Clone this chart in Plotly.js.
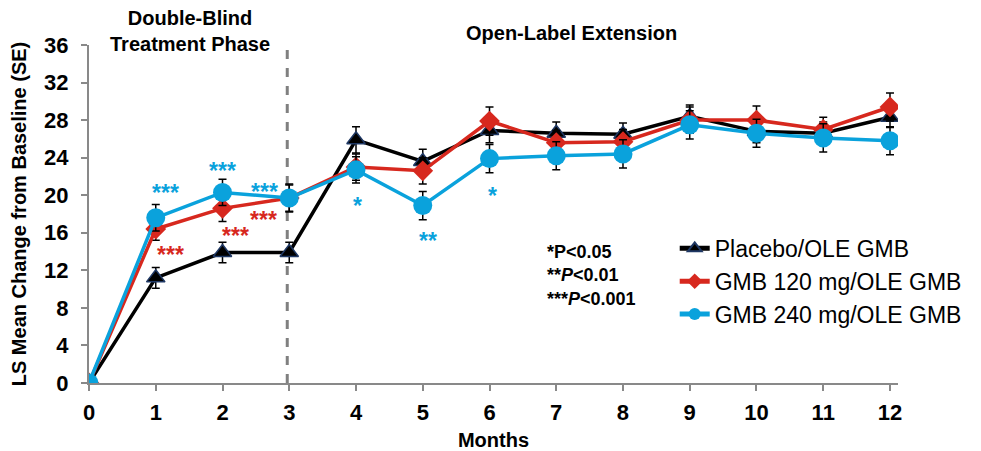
<!DOCTYPE html>
<html>
<head>
<meta charset="utf-8">
<script src="https://cdn.plot.ly/plotly-3.0.1.min.js"></script>
<style>html,body{margin:0;padding:0;background:#fff;}#chart{width:981px;height:451px;}</style>
</head>
<body>
<div id="chart"></div>
<script>
// ---- data ----
var months = [0, 1, 2, 3, 4, 5, 6, 7, 8, 9, 10, 11, 12];
var tickLabels = ["0","1","2","3","4","5","6","7","8","9","10","11","12"];
var seriesNames = ["Placebo/OLE GMB", "GMB 120 mg/OLE GMB", "GMB 240 mg/OLE GMB"];
var placebo    = [0, 11.2, 13.9, 13.9, 25.9, 23.6, 26.9, 26.6, 26.5, 28.4, 26.8, 26.6, 28.3];
var placeboSE  = [0, 1.1, 1.1, 1.1, 1.4, 1.3, 1.3, 1.2, 1.2, 1.2, 1.2, 1.2, 1.1];
var gmb120     = [0, 16.4, 18.6, 19.7, 23.0, 22.6, 27.9, 25.6, 25.7, 28.0, 28.0, 27.0, 29.4];
var gmb120SE   = [0, 1.2, 1.4, 1.4, 1.4, 1.4, 1.5, 1.3, 1.3, 1.4, 1.5, 1.3, 1.5];
var gmb240     = [0, 17.6, 20.3, 19.7, 22.7, 18.9, 23.9, 24.2, 24.4, 27.5, 26.6, 26.1, 25.8];
var gmb240SE   = [0, 1.4, 1.4, 1.5, 1.4, 1.5, 1.5, 1.5, 1.5, 1.5, 1.5, 1.5, 1.5];
var yTicks = [0, 4, 8, 12, 16, 20, 24, 28, 32, 36];

var FONT = "Liberation Sans, Arial, Helvetica, sans-serif";
var BLACK = "#000000", RED = "#d7281e", BLUE = "#0aa2dc", GRAY = "#898989";

function errBar(arr) {
  return {type: "data", array: arr, visible: true, color: "#000000", thickness: 1.5, width: 4};
}

var traces = [
  {x: months, y: placebo, name: seriesNames[0], type: "scatter", mode: "lines+markers",
   legendgroup: "a",
   line: {color: BLACK, width: 3.5},
   marker: {symbol: "triangle-up", size: 16, color: BLACK, line: {color: "#1f3864", width: 1.5}},
   error_y: errBar(placeboSE)},
  {x: months, y: gmb120, name: seriesNames[1], type: "scatter", mode: "lines+markers",
   legendgroup: "b",
   line: {color: RED, width: 3.5},
   marker: {symbol: "diamond", size: 16, color: RED},
   error_y: errBar(gmb120SE)},
  {x: months, y: gmb240, name: seriesNames[2], type: "scatter", mode: "lines+markers",
   legendgroup: "c",
   line: {color: BLUE, width: 3.5},
   marker: {symbol: "circle", size: 19, color: BLUE},
   error_y: errBar(gmb240SE)}
];

function star(x, y, t, c) {
  return {x: x, y: y, xref: "x", yref: "y", text: t, showarrow: false,
          font: {family: FONT, size: 23, color: c, weight: "bold"}, xanchor: "center", yanchor: "middle"};
}

var annotations = [
  star(1.15, 20.2, "***", BLUE),
  star(2.0, 22.6, "***", BLUE),
  star(2.63, 20.3, "***", BLUE),
  star(1.22, 13.6, "***", RED),
  star(2.2, 15.7, "***", RED),
  star(2.62, 17.4, "***", RED),
  star(4.02, 18.8, "*", BLUE),
  star(5.08, 15.1, "**", BLUE),
  star(6.05, 19.9, "*", BLUE),
  {x: 0.125, y: 1.042, xref: "paper", yref: "paper", showarrow: false,
   text: "Double-Blind<br>Treatment Phase", align: "center",
   font: {family: FONT, size: 20, color: "#000", weight: "bold"}, xanchor: "center", yanchor: "middle"},
  {x: 0.597, y: 1.035, xref: "paper", yref: "paper", showarrow: false,
   text: "Open-Label Extension",
   font: {family: FONT, size: 20, color: "#000", weight: "bold"}, xanchor: "center", yanchor: "middle"},
  {x: 0.564, y: 0.318, xref: "paper", yref: "paper", showarrow: false, align: "left",
   text: "*P<0.05<br>**<i>P</i><0.01<br>***<i>P</i><0.001",
   font: {family: FONT, size: 18, color: "#000", weight: "bold"}, xanchor: "left", yanchor: "middle"}
];

var layout = {
  width: 981, height: 451,
  margin: {l: 89, r: 83, t: 45, b: 68, pad: 0},
  paper_bgcolor: "#fff", plot_bgcolor: "#fff",
  font: {family: FONT, color: "#000"},
  showlegend: true,
  legend: {x: 0.724, y: 0.462, xanchor: "left", yanchor: "top",
           font: {family: FONT, size: 23, color: "#000"}, tracegroupgap: 0,
           bgcolor: "rgba(0,0,0,0)", itemwidth: 30, itemsizing: "constant"},
  xaxis: {range: [0, 12.12], tickmode: "array", tickvals: months, ticktext: tickLabels,
          showgrid: false, zeroline: false, showline: true, linecolor: GRAY, linewidth: 2,
          ticks: "outside", ticklen: 6, tickwidth: 2, tickcolor: GRAY, ticklabelstandoff: 3,
          tickfont: {family: FONT, size: 22, color: "#000", weight: "bold"},
          title: {text: "Months", font: {family: FONT, size: 20, color: "#000", weight: "bold"}, standoff: 10}},
  yaxis: {range: [0, 36], tickmode: "array", tickvals: yTicks,
          showgrid: false, zeroline: false, showline: true, linecolor: GRAY, linewidth: 2,
          ticks: "outside", ticklen: 6, tickwidth: 2, tickcolor: GRAY, ticklabelstandoff: 8,
          tickfont: {family: FONT, size: 22, color: "#000", weight: "bold"},
          title: {text: "LS Mean Change from Baseline (SE)", font: {family: FONT, size: 20, color: "#000", weight: "bold"}, standoff: 12}},
  shapes: [
    {type: "line", xref: "x", yref: "y", x0: 2.97, x1: 2.97, y0: 0, y1: 36, layer: "below",
     line: {color: "#808080", width: 3, dash: "dash"}}
  ],
  annotations: annotations
};

Plotly.newPlot("chart", traces, layout, {displayModeBar: false, staticPlot: true});
</script>
</body>
</html>
